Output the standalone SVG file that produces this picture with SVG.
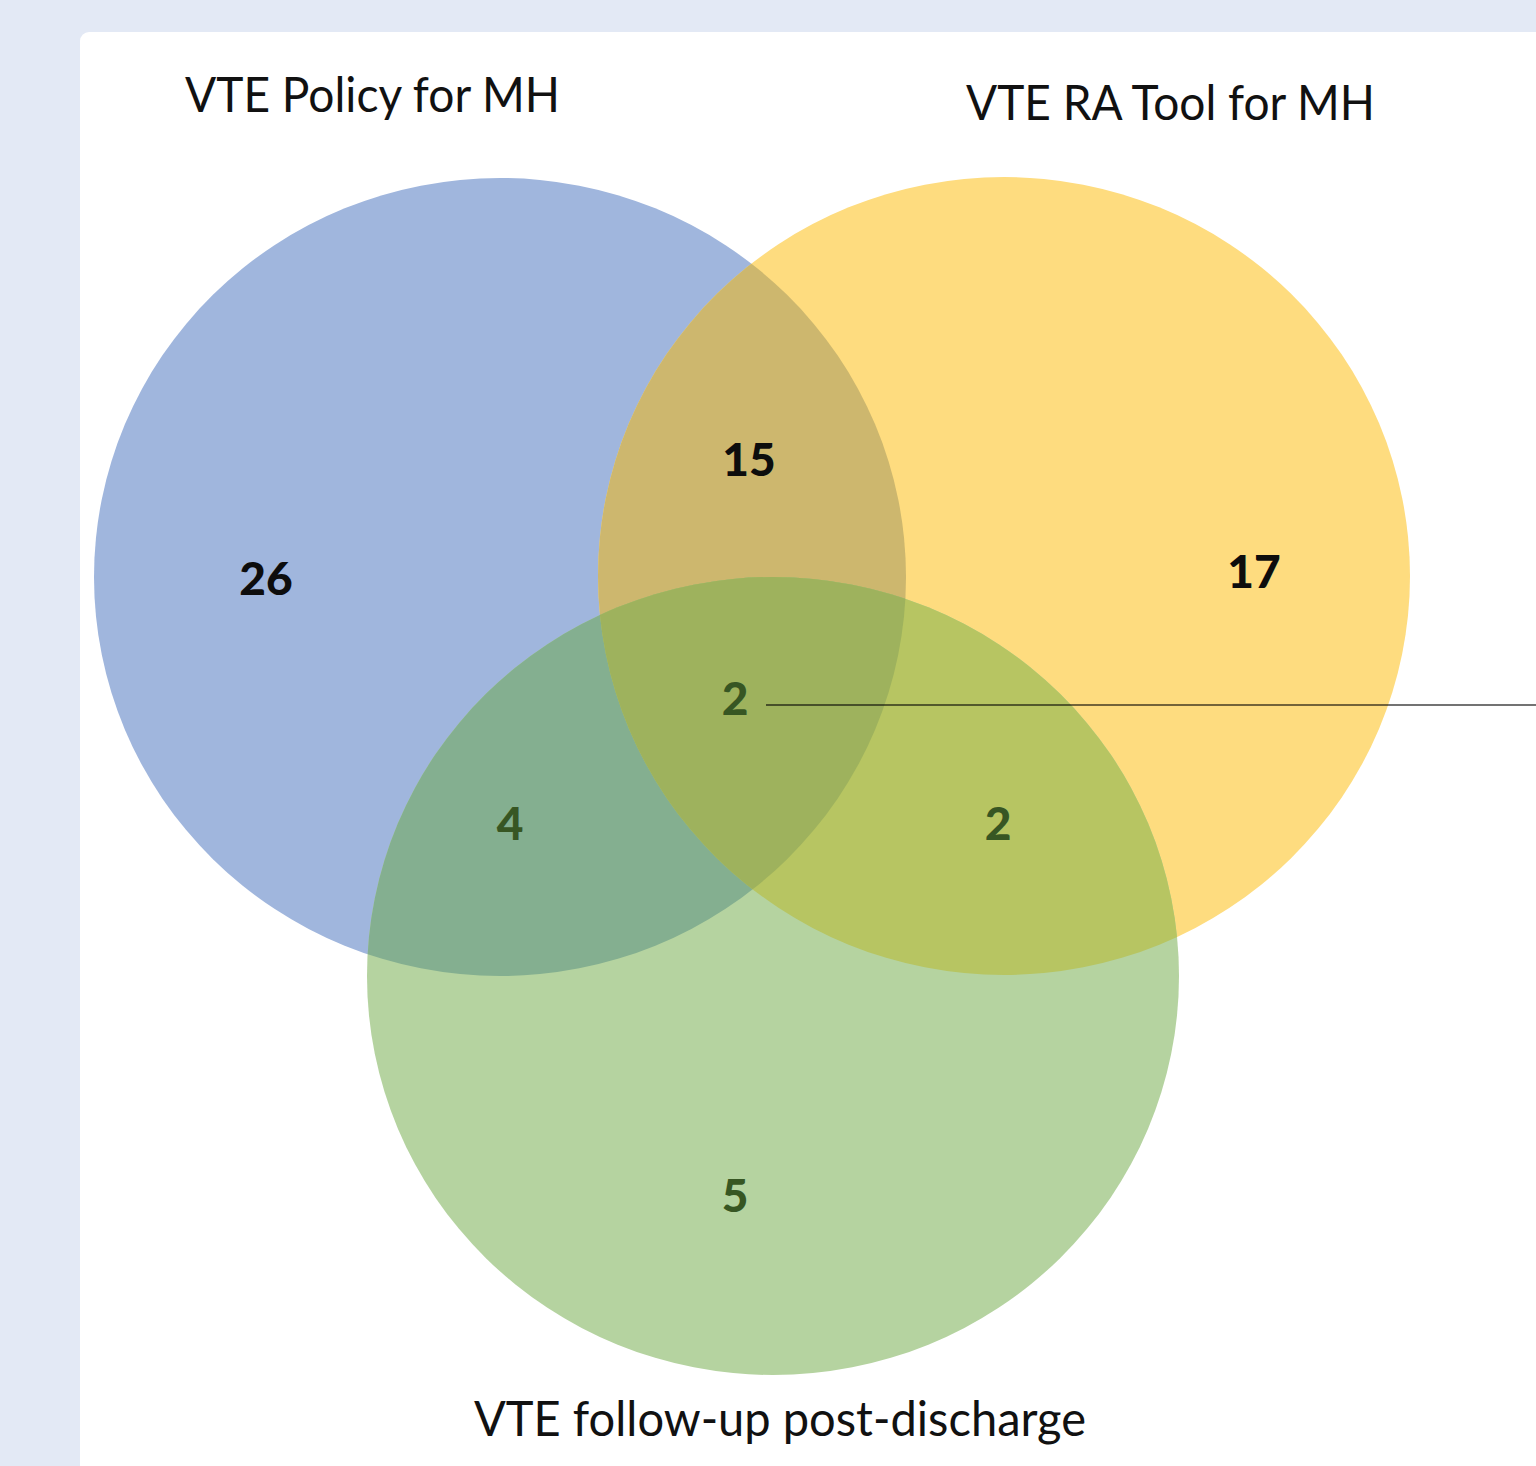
<svg xmlns="http://www.w3.org/2000/svg" width="1536" height="1466" viewBox="0 0 1536 1466">
  <style>
    .title { font-family: Lato, "Open Sans", "Liberation Sans", sans-serif; font-size: 48px; fill: #111111; }
    .num { font-family: Lato, "Open Sans", "Liberation Sans", sans-serif; font-size: 46px; font-weight: 900; text-anchor: middle; }
    .dark { fill: #0d0d0d; }
    .green { fill: #375623; }
  </style>
  <defs>
    <ellipse id="setA" cx="500" cy="577" rx="406" ry="399"/>
    <ellipse id="setB" cx="1004" cy="576" rx="406" ry="399"/>
    <ellipse id="setC" cx="773" cy="976" rx="406" ry="399"/>
    <clipPath id="clipA"><use href="#setA"/></clipPath>
    <clipPath id="clipB"><use href="#setB"/></clipPath>
    <clipPath id="clipC"><use href="#setC"/></clipPath>
  </defs>

  <rect width="1536" height="1466" fill="#E3E9F5"/>
  <rect x="80" y="32" width="1480" height="1460" rx="9" fill="#FFFFFF"/>

  <g id="set-policy">
    <use href="#setA" fill="#A0B6DD"/>
    <text class="title" x="185" y="112" textLength="375" lengthAdjust="spacingAndGlyphs">VTE Policy for MH</text>
  </g>
  <g id="set-ra-tool">
    <use href="#setB" fill="#FEDC7F"/>
    <text class="title" x="966" y="120" textLength="409" lengthAdjust="spacingAndGlyphs">VTE RA Tool for MH</text>
  </g>
  <g id="set-follow-up">
    <use href="#setC" fill="#B5D3A0"/>
    <text class="title" x="474" y="1436" textLength="612" lengthAdjust="spacingAndGlyphs">VTE follow-up post-discharge</text>
  </g>

  <g id="overlaps">
    <g clip-path="url(#clipA)"><use href="#setB" fill="#CDB76E"/></g>
    <g clip-path="url(#clipA)"><use href="#setC" fill="#84AF90"/></g>
    <g clip-path="url(#clipB)"><use href="#setC" fill="#B7C562"/></g>
    <g clip-path="url(#clipA)"><g clip-path="url(#clipB)"><use href="#setC" fill="#9EB25D"/></g></g>
  </g>

  <g id="connectors">
    <line x1="766" y1="705" x2="1536" y2="705" stroke="#000000" stroke-opacity="0.55" stroke-width="2.2"/>
  </g>

  <g id="counts">
    <text class="num dark" x="266" y="595">26</text>
    <text class="num dark" x="749" y="476">15</text>
    <text class="num dark" x="1254" y="588">17</text>
    <text class="num green" x="735" y="715">2</text>
    <text class="num green" x="510" y="840">4</text>
    <text class="num green" x="998" y="840">2</text>
    <text class="num green" x="735" y="1212">5</text>
  </g>
</svg>
